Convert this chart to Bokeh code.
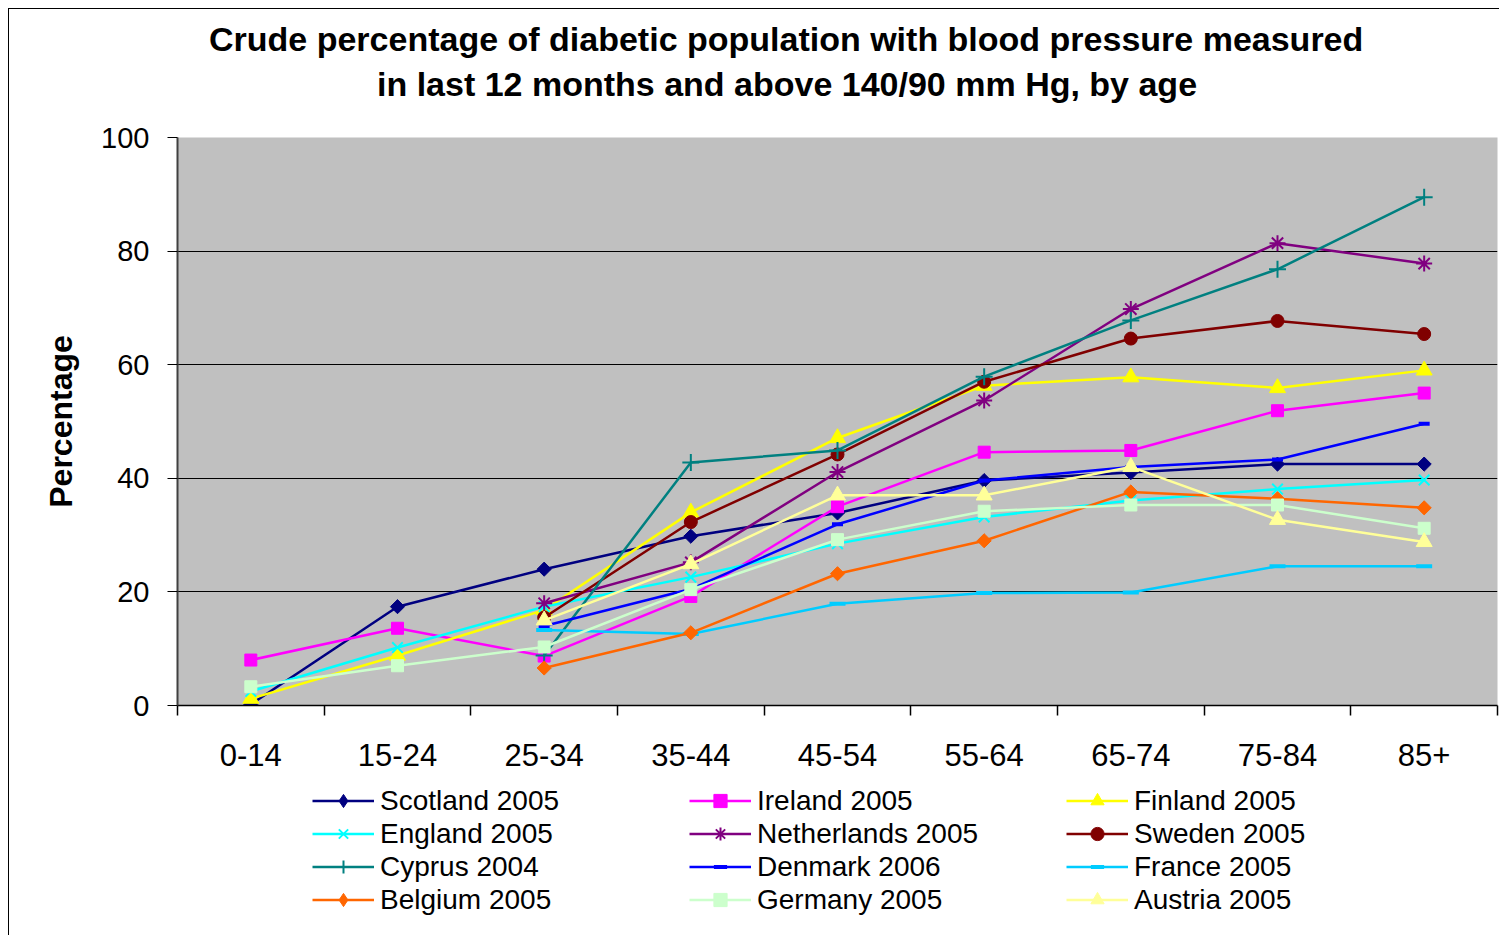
import math
from bokeh.plotting import figure
from bokeh.layouts import column
from bokeh.models import (Range1d, FixedTicker, Legend, LegendItem, Title)
from bokeh.embed import file_html
from bokeh.resources import INLINE

nan = math.nan

age_groups = ["0-14", "15-24", "25-34", "35-44", "45-54", "55-64", "65-74", "75-84", "85+"]

scotland = [0.2, 17.4, 24.0, 29.8, 33.9, 39.6, 41.0, 42.5, 42.5]
ireland = [8.0, 13.6, 8.7, 19.2, 35.0, 44.6, 44.9, 51.9, 55.0]
finland = [1.2, 8.8, 16.8, 34.0, 47.1, 56.3, 57.8, 55.9, 59.0]
england = [2.5, 10.2, 17.4, 22.6, 28.5, 33.2, 36.1, 38.1, 39.7]
netherlands = [nan, nan, 18.0, 25.2, 41.1, 53.7, 69.8, 81.4, 77.8]
sweden = [nan, nan, 15.5, 32.3, 44.2, 57.0, 64.6, 67.7, 65.4]
cyprus = [nan, nan, 8.8, 42.8, 44.9, 57.9, 67.8, 76.8, 89.5]
denmark = [nan, nan, 14.0, 20.5, 31.9, 39.6, 42.0, 43.3, 49.6]
france = [nan, nan, 13.3, 12.6, 17.9, 19.8, 19.9, 24.5, 24.5]
belgium = [nan, nan, 6.6, 12.8, 23.2, 29.0, 37.6, 36.4, 34.8]
germany = [3.3, 7.0, 10.3, 20.4, 29.2, 34.2, 35.3, 35.3, 31.2]
austria = [nan, nan, 15.0, 24.9, 37.0, 37.0, 42.0, 32.7, 28.8]

series_names = ["Scotland 2005", "Ireland 2005", "Finland 2005",
                "England 2005", "Netherlands 2005", "Sweden 2005",
                "Cyprus 2004", "Denmark 2006", "France 2005",
                "Belgium 2005", "Germany 2005", "Austria 2005"]
series_values = [scotland, ireland, finland, england, netherlands, sweden,
                 cyprus, denmark, france, belgium, germany, austria]
series_colors = ["#000080", "#FF00FF", "#FFFF00", "#00FFFF", "#800080", "#800000",
                 "#008080", "#0000FF", "#00CCFF", "#FF6600", "#CCFFCC", "#FFFF99"]
# (marker, size, angle, line_width)
series_markers = [("square", 10, math.pi / 4, 1), ("square", 12, 0, 1), ("triangle", 16, 0, 1),
                  ("x", 15, 0, 2), ("asterisk", 16, 0, 2), ("circle", 13, 0, 1),
                  ("cross", 17, 0, 2), ("dash", 11, 0, 4), ("dash", 16, 0, 4),
                  ("square", 10, math.pi / 4, 1), ("square", 12, 0, 1), ("triangle", 16, 0, 1)]
# legend swatches cannot rotate, so rotated squares become diamonds there
legend_markers = ["diamond", "square", "triangle", "x", "asterisk", "circle",
                  "cross", "dash", "dash", "diamond", "square", "triangle"]

FONT = "Liberation Sans"

W = 1490
H1 = 775
H2 = 151
LEG_SHIFT = 135

# ---------------- main chart ----------------
p = figure(width=W, height=H1, output_backend="svg", toolbar_location=None,
           x_range=Range1d(0, len(age_groups)), y_range=Range1d(0, 100),
           min_border_left=168, min_border_right=2, min_border_top=128,
           min_border_bottom=H1 - 696)
p.background_fill_color = "#C0C0C0"
p.border_fill_color = "white"
p.outline_line_color = None

xs = [i + 0.5 for i in range(len(age_groups))]

p.xaxis.ticker = FixedTicker(ticks=xs, minor_ticks=list(range(len(age_groups) + 1)))
p.xaxis.major_label_overrides = {x: g for x, g in zip(xs, age_groups)}
p.xaxis.major_tick_line_color = None
p.xaxis.major_tick_out = 10
p.xaxis.minor_tick_out = 10
p.xaxis.minor_tick_in = 0
p.xaxis.minor_tick_line_color = "black"
p.xaxis.minor_tick_line_width = 1.5
p.xaxis.major_label_standoff = 28
p.xaxis.major_label_text_font = FONT
p.xaxis.major_label_text_font_size = "31px"
p.xaxis.major_label_text_color = "black"
p.xaxis.axis_line_color = "black"
p.xaxis.axis_line_width = 1.5

p.yaxis.ticker = FixedTicker(ticks=[0, 20, 40, 60, 80, 100], minor_ticks=[])
p.yaxis.major_tick_out = 10
p.yaxis.major_tick_in = 0
p.yaxis.major_tick_line_color = "black"
p.yaxis.major_label_standoff = 18
p.yaxis.major_label_text_font = FONT
p.yaxis.major_label_text_font_size = "29px"
p.yaxis.major_label_text_color = "black"
p.yaxis.axis_line_color = "#404040"
p.yaxis.axis_line_width = 2
p.yaxis.axis_label = "Percentage"
p.yaxis.axis_label_text_font = FONT
p.yaxis.axis_label_text_font_size = "32px"
p.yaxis.axis_label_text_font_style = "bold"
p.yaxis.axis_label_text_color = "black"
p.yaxis.axis_label_standoff = 19

p.xgrid.grid_line_color = None
p.ygrid.grid_line_color = "black"
p.ygrid.grid_line_width = 1

for vals, col, (mk, sz, ang, lw) in zip(series_values, series_colors, series_markers):
    p.line(xs, vals, line_color=col, line_width=2.5)
    p.scatter(xs, vals, marker=mk, size=sz, angle=ang, fill_color=col,
              line_color=col, line_width=lw)

# title (two lines); panels stack outward from the frame
spacer = Title(text=" ", text_font=FONT, text_font_size="2px", standoff=26)
t2 = Title(text="in last 12 months and above 140/90 mm Hg, by age", align="left",
           offset=199.5, standoff=10, text_font=FONT, text_font_size="34px",
           text_font_style="bold", text_color="black")
t1 = Title(text="Crude percentage of diabetic population with blood pressure measured",
           align="left", offset=31.5, standoff=0, text_font=FONT, text_font_size="34px",
           text_font_style="bold", text_color="black")
p.add_layout(spacer, "above")
p.add_layout(t2, "above")
p.add_layout(t1, "above")

# ---------------- legend strip ----------------
p2 = figure(width=W - LEG_SHIFT, height=H2, output_backend="svg", toolbar_location=None,
            x_range=Range1d(-20, -19), y_range=Range1d(-20, -19),
            x_axis_type=None, y_axis_type=None,
            min_border_left=168, min_border_right=2, min_border_top=0,
            min_border_bottom=0)
p2.styles = {"margin-left": f"{LEG_SHIFT}px"}
p2.outline_line_color = None
p2.background_fill_color = "white"
p2.border_fill_color = "white"
p2.grid.visible = False

items = []
for name, vals, col, lmk, (mk, sz, ang, lw) in zip(series_names, series_values, series_colors,
                                                  legend_markers, series_markers):
    lr = p2.line(xs, vals, line_color=col, line_width=2.5)
    sr = p2.scatter(xs, vals, marker=lmk, size=sz, fill_color=col,
                    line_color=col, line_width=lw)
    items.append(LegendItem(label=name, renderers=[lr, sr]))

legend = Legend(items=items, orientation="horizontal", ncols=3,
                location="top_left", margin=0, padding=0, spacing=0,
                label_height=33, label_width=309, glyph_height=33, glyph_width=62,
                label_standoff=6, label_text_font=FONT, label_text_font_size="28px",
                label_text_color="black",
                border_line_color=None, background_fill_alpha=0)
p2.add_layout(legend, "center")

layout = column(p, p2, spacing=0,
                styles={"margin-left": "8px", "margin-top": "8px",
                        "border-left": "1.5px solid black",
                        "border-top": "1.5px solid black"})

open("out.html", "w").write(file_html(layout, INLINE))
